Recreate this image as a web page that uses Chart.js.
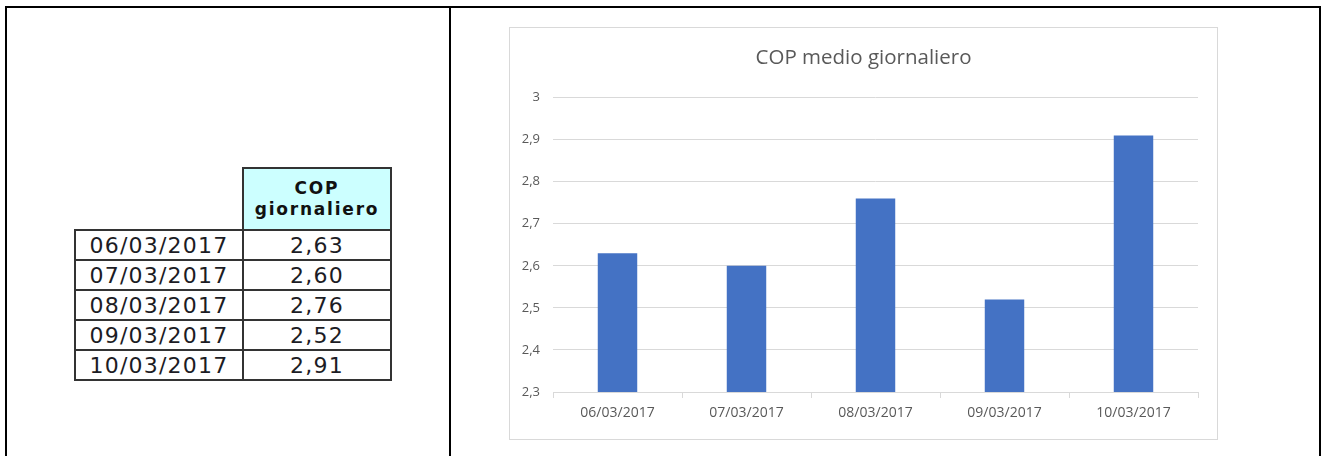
<!DOCTYPE html>
<html>
<head>
<meta charset="utf-8">
<script src="https://cdn.jsdelivr.net/npm/chart.js@4"></script>
<style>
    html, body { margin: 0; padding: 0; background: #fff; }
    body { width: 1322px; height: 456px; position: relative; overflow: hidden; }
    .frame {
        position: absolute; left: 5px; top: 6px; width: 1316px; height: 470px;
        box-sizing: border-box; border: 2px solid #000; border-bottom: none;
    }
    .divider { position: absolute; left: 449px; top: 6px; width: 2px; height: 470px; background: #000; }
    .cell {
        position: absolute; box-sizing: border-box; border: 2px solid #333;
        display: flex; align-items: center; justify-content: center;
        font-family: "DejaVu Sans", Verdana, sans-serif; color: #1c1c24;
    }
    .head {
        background: #ccffff; font-weight: bold; font-size: 17px; line-height: 21px;
        letter-spacing: 1.8px; text-align: center; flex-direction: column; color: #111;
    }
    .row { font-size: 22px; letter-spacing: 1.2px; padding-top: 1px; }
    .chart-box {
        position: absolute; left: 509px; top: 27px; width: 709px; height: 413px;
        box-sizing: border-box; border: 1px solid #d9d9d9; background: #fff;
    }
    .chart-box canvas { display: block; }
</style>
</head>
<body>
<div class="frame"></div>
<div class="divider"></div>
<div id="table"></div>
<div class="chart-box"><canvas id="copChart" width="707" height="411"></canvas></div>

<script>
const days = ['06/03/2017', '07/03/2017', '08/03/2017', '09/03/2017', '10/03/2017'];
const copValues = [2.63, 2.60, 2.76, 2.52, 2.91];
const headerLines = ['COP', 'giornaliero'];
const chartTitle = 'COP medio giornaliero';

const yMin = 2.3;
const yMax = 3;
const yStep = 0.1;

function formatComma(v, digits) {
    return v.toFixed(digits).replace('.', ',');
}

// the title should be centred on the whole canvas, not on the padded area
const centerTitle = {
    id: 'centerTitle',
    afterLayout(chart) {
        const t = chart.titleBlock;
        if (!t) return;
        t.left = 0;
        t.right = chart.width;
        t.width = chart.width;
    }
};

function buildTable() {
    const host = document.getElementById('table');

    const head = document.createElement('div');
    head.className = 'cell head';
    Object.assign(head.style, { left: '242px', top: '167px', width: '150px', height: '64px' });
    headerLines.forEach(t => {
        const line = document.createElement('div');
        line.textContent = t;
        head.appendChild(line);
    });
    host.appendChild(head);

    days.forEach((d, i) => {
        const top = 229 + i * 30;
        const dateCell = document.createElement('div');
        dateCell.className = 'cell row';
        Object.assign(dateCell.style, { left: '74px', top: top + 'px', width: '170px', height: '32px' });
        dateCell.textContent = d;
        host.appendChild(dateCell);

        const valCell = document.createElement('div');
        valCell.className = 'cell row';
        Object.assign(valCell.style, { left: '242px', top: top + 'px', width: '150px', height: '32px' });
        valCell.textContent = formatComma(copValues[i], 2);
        host.appendChild(valCell);
    });
}

function initCopChart() {
    const ctx = document.getElementById('copChart');
    if (!ctx) return;

    new Chart(ctx, {
        type: 'bar',
        data: {
            labels: days,
            datasets: [{
                label: 'COP',
                data: copValues,
                backgroundColor: '#4472c4',
                borderWidth: 0,
                barPercentage: 0.306,
                categoryPercentage: 1
            }]
        },
        plugins: [centerTitle],
        options: {
            responsive: false,
            animation: false,
            layout: {
                padding: { left: 0, right: 19, top: 0, bottom: 0 }
            },
            plugins: {
                legend: { display: false },
                tooltip: { enabled: false },
                title: {
                    display: true,
                    text: chartTitle,
                    color: '#595959',
                    font: { family: '"Open Sans", sans-serif', size: 20.5, weight: 'normal' },
                    padding: { top: 18, bottom: 27 }
                }
            },
            scales: {
                y: {
                    min: yMin,
                    max: yMax,
                    ticks: {
                        stepSize: yStep,
                        color: '#595959',
                        padding: 13,
                        font: { family: '"Open Sans", sans-serif', size: 13 },
                        callback: v => String(Number(v.toFixed(1))).replace('.', ',')
                    },
                    grid: { color: '#d9d9d9', drawTicks: false },
                    border: { display: false },
                    afterFit: scale => { scale.width = 43; }
                },
                x: {
                    grid: {
                        offset: true,
                        drawOnChartArea: false,
                        drawTicks: true,
                        tickLength: 6,
                        color: '#d9d9d9'
                    },
                    border: { color: '#d9d9d9' },
                    ticks: {
                        color: '#595959',
                        padding: 7,
                        maxRotation: 0,
                        font: { family: '"Open Sans", sans-serif', size: 14 }
                    },
                    afterFit: scale => { scale.height = 47; }
                }
            }
        }
    });
}

buildTable();
initCopChart();
</script>
</body>
</html>
